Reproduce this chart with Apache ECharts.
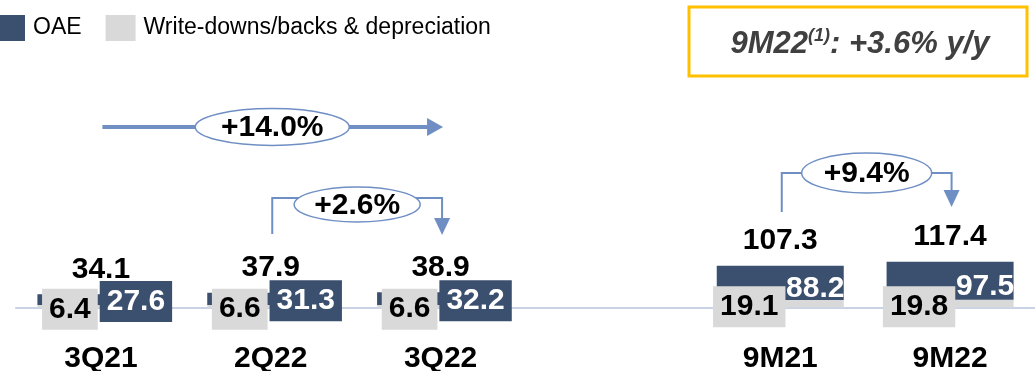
<!DOCTYPE html>
<html>
<head>
<meta charset="utf-8">
<script src="https://cdn.jsdelivr.net/npm/echarts@6/dist/echarts.min.js"></script>
<style>
  html, body { margin: 0; padding: 0; background: #fff; }
  #main { width: 1035px; height: 371px; }
</style>
</head>
<body>
<div id="main"></div>
<script>
// values
const categories = ['3Q21', '2Q22', '3Q22', '', '9M21', '9M22'];
const oae = [27.6, 31.3, 32.2, '-', 88.2, 97.5];
const writeDowns = [6.4, 6.6, 6.6, '-', 19.1, 19.8];
const totals = [34.1, 37.9, 38.9, '-', 107.3, 117.4];
const growthLabels = ['+14.0%', '+2.6%', '+9.4%'];
const headline = ['9M22', '(1)', ': +3.6% y/y'];

const FONT = 'Liberation Sans, Arial, sans-serif';
const DARK = '#3b4f6e';
const GREY = '#d9d9d9';
const ARROW = '#6f8fc4';
const FS = 30;

var chart = echarts.init(document.getElementById('main'), null, { renderer: 'canvas' });

// the 9M bars are wide enough to hold their label, quarterly ones get a box
function oaeItem(v, i) {
  if (v === '-') return v;
  const big = i >= 4;
  return {
    value: v,
    label: big
      ? { offset: [35, 5.5], backgroundColor: 'transparent' }
      : { offset: [35, 2], backgroundColor: DARK }
  };
}

var option = {
  animation: false,
  legend: {
    left: -10,
    top: 10,
    itemWidth: 30,
    itemHeight: 26,
    itemGap: 24,
    icon: 'rect',
    data: ['OAE', 'Write-downs/backs & depreciation'],
    textStyle: { fontFamily: FONT, fontSize: 23, color: '#000', padding: [4, 0, 0, 3] }
  },
  grid: { left: 16, right: 0, top: 73.5, bottom: 63.5, containLabel: false, outerBoundsMode: 'none' },
  xAxis: {
    type: 'category',
    data: categories,
    axisLine: { lineStyle: { color: '#c9d3e5', width: 2 } },
    axisTick: { show: false },
    axisLabel: { margin: 36, fontFamily: FONT, fontSize: FS, fontWeight: 'bold', color: '#000' }
  },
  yAxis: { type: 'value', min: 0, max: 600, show: false, splitLine: { show: false } },
  series: [
    {
      name: 'Write-downs/backs & depreciation',
      type: 'bar',
      stack: 'total',
      barWidth: 127,
      itemStyle: { color: GREY },
      data: writeDowns,
      label: {
        show: true,
        position: 'inside',
        offset: [-31, 3],
        fontFamily: FONT,
        fontSize: FS,
        fontWeight: 'bold',
        color: '#000',
        backgroundColor: GREY,
        lineHeight: 33,
        padding: [4, 7, 4, 7]
      }
    },
    {
      name: 'OAE',
      type: 'bar',
      stack: 'total',
      barWidth: 127,
      itemStyle: { color: DARK },
      data: oae.map(oaeItem),
      label: {
        show: true,
        position: 'inside',
        fontFamily: FONT,
        fontSize: FS,
        fontWeight: 'bold',
        color: '#fff',
        lineHeight: 33,
        padding: [4, 7, 4, 7]
      }
    },
    {
      // zero-height cap on the stack, only carries the total label
      name: 'total',
      type: 'bar',
      stack: 'total',
      barWidth: 127,
      itemStyle: { color: 'transparent' },
      data: totals.map(function (t) { return t === '-' ? '-' : 0; }),
      label: {
        show: true,
        position: 'top',
        distance: 10,
        formatter: function (p) { return totals[p.dataIndex]; },
        fontFamily: FONT,
        fontSize: FS,
        fontWeight: 'bold',
        color: '#000'
      }
    }
  ]
};

chart.setOption(option);

// growth brackets, anchored to the category centres
function cx(name) {
  return chart.convertToPixel({ xAxisIndex: 0 }, name) + 1.5;
}

function bubble(x, y, rx, ry, text) {
  return [
    {
      type: 'ellipse',
      shape: { cx: x, cy: y, rx: rx, ry: ry },
      style: { fill: '#fff', stroke: ARROW, lineWidth: 1.5 },
      z: 20
    },
    {
      type: 'text',
      x: x,
      y: y + 1,
      style: {
        text: text,
        align: 'center',
        verticalAlign: 'middle',
        font: 'bold ' + FS + 'px ' + FONT,
        fill: '#000'
      },
      z: 21
    }
  ];
}

function bracket(x1, x2, yTop, yStart, yTip, cy, rx, ry, text) {
  return [
    {
      type: 'polyline',
      shape: { points: [[x1, yStart], [x1, yTop], [x2, yTop], [x2, yTip - 14]] },
      style: { stroke: ARROW, lineWidth: 2, fill: null },
      z: 10
    },
    {
      type: 'polygon',
      shape: { points: [[x2 - 8, yTip - 17], [x2 + 8, yTip - 17], [x2, yTip]] },
      style: { fill: ARROW },
      z: 10
    }
  ].concat(bubble((x1 + x2) / 2, cy, rx, ry, text));
}

const x3Q21 = cx('3Q21'), x2Q22 = cx('2Q22'), x3Q22 = cx('3Q22');
const x9M21 = cx('9M21'), x9M22 = cx('9M22');

var graphics = [
  {
    type: 'line',
    shape: { x1: x3Q21, y1: 127, x2: x3Q22 - 14, y2: 127 },
    style: { stroke: ARROW, lineWidth: 4 },
    z: 10
  },
  {
    type: 'polygon',
    shape: { points: [[x3Q22 - 15, 118], [x3Q22 - 15, 136], [x3Q22 + 1, 127]] },
    style: { fill: ARROW },
    z: 10
  }
]
  .concat(bubble((x3Q21 + x3Q22) / 2, 127, 77, 18.5, growthLabels[0]))
  .concat(bracket(x2Q22, x3Q22, 198, 234, 235, 204.5, 63, 17.5, growthLabels[1]))
  .concat(bracket(x9M21, x9M22, 173, 212, 207, 173, 65, 20, growthLabels[2]))
  .concat([
    {
      type: 'rect',
      shape: { x: 689, y: 7, width: 338, height: 69 },
      style: { fill: '#fff', stroke: '#ffc000', lineWidth: 3 },
      z: 5
    },
    {
      type: 'text',
      x: 860,
      y: 44,
      style: {
        text: '{a|' + headline[0] + '}{s|' + headline[1] + '}{a|' + headline[2] + '}',
        align: 'center',
        verticalAlign: 'middle',
        rich: {
          a: { fontFamily: FONT, fontSize: 31, fontWeight: 'bold', fontStyle: 'italic', fill: '#404040', lineHeight: 34 },
          s: { fontFamily: FONT, fontSize: 18, fontWeight: 'bold', fontStyle: 'italic', fill: '#404040', lineHeight: 34, verticalAlign: 'top' }
        }
      },
      z: 6
    }
  ]);

chart.setOption({ graphic: graphics });
</script>
</body>
</html>
